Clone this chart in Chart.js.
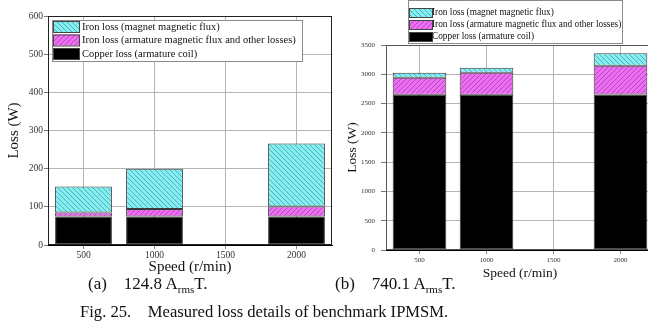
<!DOCTYPE html>
<html>
<head>
<meta charset="utf-8">
<script src="https://cdn.jsdelivr.net/npm/chart.js@4.4.1/dist/chart.umd.min.js"></script>
<style>
html, body { margin: 0; padding: 0; background: #fff; }
body { width: 648px; height: 331px; overflow: hidden; position: relative;
       font-family: "Liberation Serif", "Times New Roman", serif; color: #111; }
canvas { position: absolute; }
#ca { left: 0; top: 0; }
#cb { left: 325px; top: 0; }
.cap { position: absolute; white-space: pre; font-size: 17px; line-height: 1; }
.sub { font-size: 11px; position: relative; top: 4px; }
</style>
</head>
<body>
<canvas id="ca" width="340" height="280"></canvas>
<canvas id="cb" width="340" height="285"></canvas>
<div class="cap" style="left:88px; top:275px;">(a)    124.8 A<span class="sub">rms</span>T.</div>
<div class="cap" style="left:335px; top:275px;">(b)    740.1 A<span class="sub">rms</span>T.</div>
<div class="cap" style="left:80px; top:304px; font-size:16.6px;">Fig. 25.    Measured loss details of benchmark IPMSM.</div>
<script>
// speeds where loss was measured (r/min)
const speeds = [500, 1000, 2000];
const xTicks = [500, 1000, 1500, 2000];
const seriesNames = [
  'Copper loss (armature coil)',
  'Iron loss (armature magnetic flux and other losses)',
  'Iron loss (magnet magnetic flux)'
];

// (a) 124.8 Arms
const copperA = [75, 75, 75];
const armIronA = [10, 19, 26];
const magIronA = [68, 106, 165];
const yTicksA = [0, 100, 200, 300, 400, 500, 600];

// (b) 740.1 Arms
const copperB = [2650, 2650, 2655];
const armIronB = [290, 375, 490];
const magIronB = [85, 85, 215];
const yTicksB = [0, 500, 1000, 1500, 2000, 2500, 3000, 3500];

Chart.defaults.font.family = '"Liberation Serif", "Times New Roman", serif';
Chart.defaults.color = '#222';

function hatch(bg, fg, dir) {
  const s = 5;
  const c = document.createElement('canvas');
  c.width = c.height = s;
  const x = c.getContext('2d');
  x.fillStyle = bg;
  x.fillRect(0, 0, s, s);
  x.strokeStyle = fg;
  x.lineWidth = 0.8;
  x.beginPath();
  if (dir > 0) {
    x.moveTo(0, s); x.lineTo(s, 0);
    x.moveTo(-1, 1); x.lineTo(1, -1);
    x.moveTo(s - 1, s + 1); x.lineTo(s + 1, s - 1);
  } else {
    x.moveTo(0, 0); x.lineTo(s, s);
    x.moveTo(-1, s - 1); x.lineTo(1, s + 1);
    x.moveTo(s - 1, -1); x.lineTo(s + 1, 1);
  }
  x.stroke();
  return x.createPattern(c, 'repeat');
}

const fills = [
  '#000000',
  hatch('#ee6ef2', '#a43fb4', 1),
  hatch('#86eef0', '#3aa5ae', -1)
];

const frame = {
  id: 'frame',
  afterDatasetsDraw(chart, args, o) {
    const a = chart.chartArea, ctx = chart.ctx;
    ctx.save();
    ctx.strokeStyle = o.color;
    ctx.lineWidth = 1;
    ctx.strokeRect(a.left + 0.5, a.top + 0.5, a.right - a.left - 1, a.bottom - a.top - 1);
    ctx.restore();
  }
};

const boxLegend = {
  id: 'boxLegend',
  afterDraw(chart, args, o) {
    const ctx = chart.ctx;
    const ds = chart.data.datasets.slice().reverse();
    ctx.save();
    ctx.fillStyle = '#fff';
    ctx.fillRect(o.x, o.y, o.w, o.h);
    ctx.strokeStyle = '#8a8a8a';
    ctx.lineWidth = 1;
    ctx.strokeRect(o.x + 0.5, o.y + 0.5, o.w, o.h);
    ctx.font = o.size + 'px "Liberation Serif", serif';
    ctx.textBaseline = 'middle';
    ds.forEach((d, i) => {
      const cy = o.y + o.first + i * o.pitch;
      ctx.fillStyle = d.backgroundColor;
      ctx.fillRect(o.x + 1, cy - o.sh / 2, o.sw, o.sh);
      ctx.strokeStyle = '#444';
      ctx.strokeRect(o.x + 1.5, cy - o.sh / 2 + 0.5, o.sw, o.sh);
      ctx.fillStyle = '#111';
      ctx.fillText(d.label, o.x + o.tx, cy + 0.5);
    });
    ctx.restore();
  }
};

function makeChart(id, series, yTicks, o) {
  const datasets = series.map((vals, i) => ({
    label: seriesNames[i],
    data: speeds.map((s, k) => ({ x: s, y: vals[k] })),
    backgroundColor: fills[i],
    borderColor: '#3a3a3a',
    borderWidth: 1,
    borderSkipped: false,
    barPercentage: 0.8,
    categoryPercentage: 1
  }));
  return new Chart(document.getElementById(id), {
    type: 'bar',
    data: { datasets },
    plugins: [frame, boxLegend],
    options: {
      responsive: false,
      animation: false,
      devicePixelRatio: 1,
      layout: { padding: o.pad },
      plugins: {
        legend: { display: false },
        tooltip: { enabled: false },
        frame: { color: o.frameColor },
        boxLegend: o.legend
      },
      scales: {
        x: {
          type: 'linear',
          stacked: true,
          offset: false,
          min: 250,
          max: 2250,
          afterBuildTicks: s => { s.ticks = xTicks.map(v => ({ value: v })); },
          afterFit: s => { s.height = o.xh; },
          ticks: { font: { size: o.tick }, padding: o.xtp, color: '#333', maxRotation: 0,
                   callback: v => String(v) },
          grid: { color: '#b5b5b5', tickLength: 4, tickColor: '#888', offset: false },
          border: { color: '#000', width: 1 },
          title: { display: true, text: 'Speed (r/min)', color: '#111',
                   font: { size: o.title, lineHeight: 1 }, padding: { top: 0, bottom: o.xtitle } }
        },
        y: {
          stacked: true,
          min: yTicks[0],
          max: yTicks[yTicks.length - 1],
          afterBuildTicks: s => { s.ticks = yTicks.map(v => ({ value: v })); },
          afterFit: s => { s.width = o.yw; },
          ticks: { font: { size: o.tick }, padding: o.ytp, color: '#333', callback: v => String(v) },
          grid: { color: '#b5b5b5', tickLength: o.ytl, tickColor: '#777' },
          border: { color: '#000', width: 1 },
          title: { display: true, text: 'Loss (W)', color: '#111',
                   font: { size: o.title, lineHeight: 1 }, padding: { top: o.ytitle, bottom: 0 } }
        }
      }
    }
  });
}

makeChart('ca', [copperA, armIronA, magIronA], yTicksA, {
  pad: { left: 0, top: 16, right: 8, bottom: 0 },
  xh: 35, yw: 48, tick: 9.5, title: 15, xtp: 1, ytp: 1, ytl: 4,
  xtitle: 5.5, ytitle: 7, frameColor: '#222',
  legend: { x: 52, y: 20, w: 250, h: 41, first: 6.5, pitch: 13.5, sw: 26, sh: 11, tx: 30, size: 10.5 }
});

makeChart('cb', [copperB, armIronB, magIronB], yTicksB, {
  pad: { left: 0, top: 45, right: 11, bottom: 0 },
  xh: 35, yw: 61, tick: 7, title: 13.5, xtp: 2, ytp: 6, ytl: 5,
  xtitle: 4.3, ytitle: 20.7, frameColor: '#555',
  legend: { x: 83, y: 0, w: 214, h: 43, first: 12.5, pitch: 12, sw: 23, sh: 9, tx: 24, size: 9.3 }
});
</script>
</body>
</html>
